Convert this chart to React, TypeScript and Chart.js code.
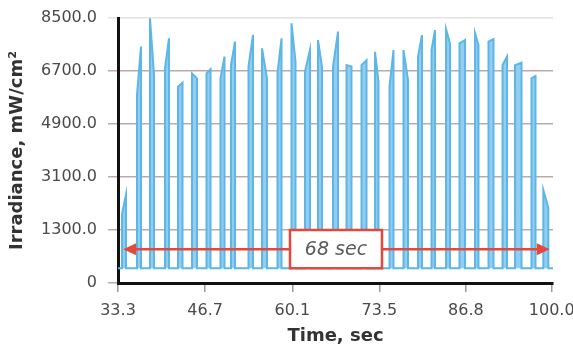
import { useEffect, useRef } from 'react';
import { Chart, registerables } from 'chart.js';

Chart.register(...registerables);

// Pulse train (time in s, irradiance in mW/cm²)
const pulseStart = [33.92, 36.22, 38.22, 40.53, 42.53, 44.68, 46.91, 49.06, 50.68, 53.37, 55.45, 57.83, 59.98, 62.06, 64.06, 66.37, 68.44, 70.75, 72.83, 75.06, 77.21, 79.44, 81.52, 83.75, 85.82, 88.21, 90.28, 92.44, 94.36, 96.89, 98.71];
const pulseEnd = [34.53, 36.84, 38.84, 41.14, 43.22, 45.45, 47.53, 49.68, 51.29, 54.06, 56.22, 58.45, 60.6, 62.83, 64.67, 67.14, 69.21, 71.52, 73.36, 75.67, 77.9, 80.05, 82.05, 84.36, 86.67, 88.74, 91.05, 93.13, 95.36, 97.51, 99.48];
const pulseLead = [1850, 5880, 8490, 6790, 6170, 6620, 6620, 6450, 6900, 6850, 7470, 6620, 8320, 6680, 7750, 6850, 6900, 6900, 7350, 6170, 7410, 7190, 7410, 8120, 7640, 7980, 7700, 6900, 6900, 6450, 2660];
const pulseTrail = [2500, 7530, 6560, 7810, 6300, 6450, 6760, 7190, 7700, 7930, 6450, 7810, 7020, 7420, 6850, 8040, 6850, 7070, 6340, 7410, 6390, 7920, 8090, 7640, 7750, 7580, 7780, 7190, 6980, 6530, 2050];
const baselineStart = 33.3;
const baselineEnd = 100.2;

const xTickValues = [33.3, 46.7, 60.1, 73.5, 86.8, 100.0];
const xTickLabels = ['33.3', '46.7', '60.1', '73.5', '86.8', '100.0'];
const yTickValues = [-500, 1300, 3100, 4900, 6700, 8500];
const yTickLabels = ['0', '1300.0', '3100.0', '4900.0', '6700.0', '8500.0'];

// Annotation: span arrow and label box
const spanStart = 34.1;
const spanEnd = 99.7;
const spanLevel = 650;
const spanLabel = '68 sec';
const boxStart = 59.75;
const boxEnd = 73.9;
const boxLow = 0;
const boxHigh = 1300;

const RED = '#e4483a';

const spanPlugin = {
  id: 'spanPlugin',
  afterDatasetsDraw(chart: any) {
    const { ctx, scales } = chart;
    const xs = scales.x;
    const ys = scales.y;
    const x1 = xs.getPixelForValue(spanStart);
    const x2 = xs.getPixelForValue(spanEnd);
    const yy = ys.getPixelForValue(spanLevel);
    ctx.save();
    ctx.strokeStyle = RED;
    ctx.lineWidth = 2.5;
    ctx.beginPath();
    ctx.moveTo(x1 + 8, yy);
    ctx.lineTo(x2 - 8, yy);
    ctx.stroke();
    ctx.fillStyle = RED;
    ctx.beginPath();
    ctx.moveTo(x1, yy);
    ctx.lineTo(x1 + 13, yy - 6);
    ctx.lineTo(x1 + 13, yy + 6);
    ctx.closePath();
    ctx.fill();
    ctx.beginPath();
    ctx.moveTo(x2, yy);
    ctx.lineTo(x2 - 13, yy - 6);
    ctx.lineTo(x2 - 13, yy + 6);
    ctx.closePath();
    ctx.fill();

    const bx1 = xs.getPixelForValue(boxStart);
    const bx2 = xs.getPixelForValue(boxEnd);
    const by1 = ys.getPixelForValue(boxHigh);
    const by2 = ys.getPixelForValue(boxLow);
    ctx.fillStyle = '#ffffff';
    ctx.fillRect(bx1, by1, bx2 - bx1, by2 - by1);
    ctx.strokeStyle = RED;
    ctx.lineWidth = 2.5;
    ctx.strokeRect(bx1, by1, bx2 - bx1, by2 - by1);
    ctx.fillStyle = '#5a5a5a';
    ctx.font = 'italic 19px "DejaVu Sans"';
    ctx.textAlign = 'center';
    ctx.textBaseline = 'middle';
    ctx.fillText(spanLabel, (bx1 + bx2) / 2, (by1 + by2) / 2 + 1);
    ctx.restore();
  },
};

export default function App() {
  const canvasRef = useRef<HTMLCanvasElement | null>(null);

  useEffect(() => {
    const canvas = canvasRef.current;
    if (!canvas) return;
    const points: { x: number; y: number }[] = [{ x: baselineStart, y: 0 }];
    pulseStart.forEach((s, i) => {
      points.push({ x: s, y: 0 });
      points.push({ x: s, y: pulseLead[i] });
      points.push({ x: pulseEnd[i], y: pulseTrail[i] });
      points.push({ x: pulseEnd[i], y: 0 });
    });
    points.push({ x: baselineEnd, y: 0 });

    const chart = new Chart(canvas, {
      type: 'line',
      data: {
        datasets: [
          {
            data: points,
            borderColor: '#5cb6e6',
            backgroundColor: '#93cdef',
            borderWidth: 2,
            fill: { value: 0 },
            pointRadius: 0,
            tension: 0,
          },
        ],
      },
      options: {
        responsive: false,
        animation: false,
        layout: { padding: { top: 18, right: 20, left: 0, bottom: 0 } },
        plugins: { legend: { display: false }, tooltip: { enabled: false } },
        scales: {
          x: {
            type: 'linear',
            min: 33.3,
            max: 100.2,
            afterBuildTicks: (scale: any) => {
              scale.ticks = xTickValues.map((v) => ({ value: v }));
            },
            afterFit: (scale: any) => {
              scale.height = 64;
              scale.paddingLeft = 0;
              scale.paddingRight = 0;
            },
            ticks: {
              autoSkip: false,
              maxRotation: 0,
              padding: 9,
              color: '#4a4a4a',
              font: { family: 'DejaVu Sans', size: 16 },
              callback: (_v: any, i: number) => xTickLabels[i],
            },
            grid: {
              drawOnChartArea: false,
              drawTicks: true,
              tickLength: 9,
              color: '#9a9a9a',
              lineWidth: 1.5,
            },
            border: { display: true, color: '#111111', width: 3 },
            title: {
              display: true,
              text: 'Time, sec',
              color: '#333333',
              font: { family: 'DejaVu Sans', size: 18, weight: 'bold' },
              padding: { top: 0, bottom: 0 },
            },
          },
          y: {
            type: 'linear',
            min: -500,
            max: 8500,
            afterBuildTicks: (scale: any) => {
              scale.ticks = yTickValues.map((v) => ({ value: v }));
            },
            afterFit: (scale: any) => {
              scale.width = 118;
              scale.paddingTop = 0;
              scale.paddingBottom = 0;
            },
            ticks: {
              autoSkip: false,
              padding: 11,
              color: '#4a4a4a',
              font: { family: 'DejaVu Sans', size: 16 },
              callback: (_v: any, i: number) => yTickLabels[i],
            },
            grid: {
              drawTicks: true,
              tickLength: 10,
              lineWidth: 1.5,
              color: (c: any) => (c.tick && c.tick.value === 8500 ? '#e2e2e2' : '#b9aca8'),
            },
            border: { display: true, color: '#111111', width: 3 },
            title: {
              display: true,
              text: 'Irradiance, mW/cm²',
              color: '#333333',
              font: { family: 'DejaVu Sans', size: 18, weight: 'bold' },
              padding: { top: 7, bottom: 0 },
            },
          },
        },
      },
      plugins: [spanPlugin],
    });
    return () => chart.destroy();
  }, []);

  return (
    <div style={{ position: 'absolute', left: 0, top: 0, width: 573, height: 347, background: '#ffffff' }}>
      <canvas ref={canvasRef} width={573} height={347} style={{ display: 'block' }} />
    </div>
  );
}
